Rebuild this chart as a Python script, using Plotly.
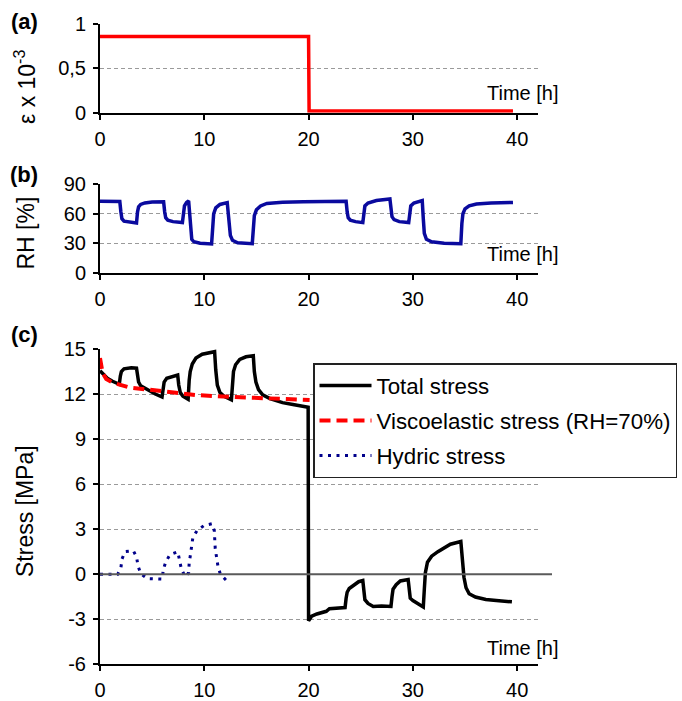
import plotly.graph_objects as go

# ---------------- data ----------------
# (a) imposed strain
strain_t = [0, 20, 20.05, 39.6]
strain_v = [0.86, 0.86, 0.02, 0.02]

# (b) relative humidity
rh_t = [0, 1.9, 2.0, 2.1, 2.3, 2.8, 3.5, 3.6, 3.7, 3.9, 4.3, 5.0, 6.1, 6.2, 6.3, 6.5, 7.0,
        7.9, 8.0, 8.1, 8.3, 8.5, 8.6, 8.7, 8.8, 9.0, 9.6, 10.7, 10.8, 10.9, 11.1, 11.5,
        12.2, 12.4, 12.5, 12.7, 13.2, 14.6, 14.7, 14.8, 15.0, 15.4, 16.0, 17.5, 19.5,
        23.6, 23.7, 23.8, 24.0, 24.5, 25.2, 25.3, 25.4, 25.7, 26.5, 27.8, 27.9, 28.0,
        28.2, 28.7, 29.6, 29.7, 29.8, 30.1, 30.9, 31.0, 31.1, 31.3, 31.8, 33.0, 34.6,
        34.7, 34.8, 35.0, 35.4, 36.1, 37.5, 39.6]
rh_v = [72.7, 72.5, 62, 55, 52.5, 51.5, 50.5, 62, 67, 69.5, 71, 72, 72.2, 62, 56, 53.5, 52,
        51, 63, 68, 71.5, 73, 60, 40, 34, 31.5, 30, 29.3, 50, 60, 66, 69.5,
        71.3, 50, 38, 33, 30.5, 29.5, 48, 58, 64, 68, 70.5, 71.7, 72.3,
        72.7, 62, 56, 53.5, 52, 51, 63, 68, 71, 73.5, 75, 64, 57,
        54, 52, 51, 63, 68, 71, 73.4, 55, 40, 34, 31.5, 30, 29.5,
        50, 60, 65, 68, 70, 71, 71.5]

# (c) stresses
total_t = [0, 0.3, 0.7, 1.2, 1.85, 1.95, 2.05, 2.3, 3.0, 3.5, 3.6, 3.7, 3.9, 4.5, 5.3, 5.95,
           6.05, 6.15, 6.4, 7.0, 7.45, 7.55, 7.7, 7.95, 8.45, 8.55, 8.65, 8.85, 9.2, 9.8,
           10.99, 11.1, 11.25, 11.5, 11.9, 12.6, 12.7, 12.8, 13.0, 13.4, 14.0, 14.7, 14.8,
           14.95, 15.2, 15.6, 16.3, 17.5, 18.5, 19.96, 20.0, 20.3, 20.8, 21.7, 22.0, 22.5,
           23.5, 23.6, 23.7, 23.9, 24.3, 24.8, 25.2, 25.3, 25.4, 25.7, 26.2, 27.0, 27.9,
           28.0, 28.1, 28.4, 28.8, 29.55, 29.65, 29.75, 30.0, 30.4, 31.0, 31.1, 31.2, 31.4,
           31.8, 32.4, 32.9, 33.6, 34.6, 34.75, 34.9, 35.1, 35.4, 36.0, 37.0, 38.0, 39.5]
total_v = [13.55, 13.3, 13.05, 12.85, 12.65, 13.2, 13.5, 13.68, 13.75, 13.72, 13.2, 12.8,
           12.55, 12.3, 12.0, 11.8, 12.5, 12.8, 13.05, 13.2, 13.27, 12.6, 12.1, 11.85, 11.65,
           12.9, 13.5, 14.0, 14.4, 14.65, 14.82, 13.6, 12.6, 12.1, 11.85, 11.62, 12.9, 13.5,
           13.95, 14.3, 14.48, 14.55, 13.5, 12.8, 12.3, 11.95, 11.7, 11.43, 11.3, 11.12,
           -3.1, -2.8, -2.65, -2.47, -2.3, -2.28, -2.22, -1.6, -1.2, -0.95, -0.72, -0.5,
           -0.42, -1.2, -1.7, -1.95, -2.15, -2.12, -2.15, -1.5, -1.0, -0.7, -0.45, -0.35,
           -1.1, -1.6, -1.75, -1.9, -2.18, -1.0, 0.1, 0.8, 1.2, 1.5, 1.72, 2.0, 2.18, 1.0,
           -0.2, -0.9, -1.3, -1.52, -1.68, -1.75, -1.84]

visco_t = [0, 0.25, 0.6, 1.2, 2.8, 6.0, 9.2, 12.4, 15.6, 20.1]
visco_v = [14.4, 13.4, 13.0, 12.76, 12.44, 12.2, 11.93, 11.82, 11.71, 11.6]

hydric_t = [0, 1.7, 2.0, 2.1, 2.4, 3.2, 3.5, 3.65, 3.9, 4.55, 6.0, 6.05, 6.3, 6.7, 7.46, 7.6,
            7.8, 8.17, 8.5, 8.55, 8.65, 8.75, 8.9, 9.3, 9.97, 10.73, 10.96, 11.05, 11.3,
            11.53, 12.1]
hydric_v = [0, 0, 0.4, 1.0, 1.5, 1.56, 1.16, 0.55, 0.04, -0.29, -0.33, 0.27, 0.8, 1.3, 1.49,
            0.9, 0.36, -0.18, 0.1, 0.7, 1.3, 1.84, 2.42, 2.9, 3.24, 3.36, 2.89, 1.7, 0.58,
            0.02, -0.4]

x_ticks = [0, 10, 20, 30, 40]
a_ticks = [0, 0.5, 1]
a_ticktext = ["0", "0,5", "1"]
b_ticks = [0, 30, 60, 90]
c_ticks = [-6, -3, 0, 3, 6, 9, 12, 15]
c_ticktext = ["-6", "-3", "0", "3", "6", "9", "12", "15"]

# ---------------- layout helpers ----------------
FONT = "Liberation Sans, Arial, sans-serif"
W, H = 682, 701
ML, MR, MT, MB = 100, 144, 20, 30
PH = H - MT - MB
PW = W - ML - MR


def py(pix):
    return (H - MB - pix) / PH


def px(pix):
    return (pix - ML) / PW


dom_a = [py(112.7), py(24)]
dom_b = [py(272.7), py(184.3)]
dom_c = [py(664.3), py(349)]
range_c = [-6, 15]

fig = go.Figure()

fig.add_trace(go.Scatter(x=strain_t, y=strain_v, mode="lines", xaxis="x", yaxis="y",
                         line=dict(color="#FF0000", width=3.5), showlegend=False))
fig.add_trace(go.Scatter(x=rh_t, y=rh_v, mode="lines", xaxis="x2", yaxis="y2",
                         line=dict(color="#0A0A9E", width=3.5), showlegend=False))
fig.add_trace(go.Scatter(x=total_t, y=total_v, mode="lines", xaxis="x3", yaxis="y3",
                         name="Total stress", legendgroup="g1",
                         line=dict(color="#000000", width=3.5)))
fig.add_trace(go.Scatter(x=visco_t, y=visco_v, mode="lines", xaxis="x3", yaxis="y3",
                         name="Viscoelastic stress (RH=70%)", legendgroup="g2",
                         line=dict(color="#FF0000", width=4, dash="11px,6px")))
fig.add_trace(go.Scatter(x=hydric_t, y=hydric_v, mode="lines", xaxis="x3", yaxis="y3",
                         name="Hydric stress", legendgroup="g3",
                         line=dict(color="#00008B", width=3, dash="3px,5.5px")))

xcommon = dict(range=[0, 42], tickvals=x_ticks, ticks="outside", ticklen=5, tickwidth=2,
               tickcolor="black", showline=True, linewidth=2, linecolor="black",
               showgrid=False, zeroline=False, automargin=False,
               tickfont=dict(family=FONT, size=20, color="black"), ticklabelstandoff=2)
ycommon = dict(ticks="outside", ticklen=5, tickwidth=2, tickcolor="black", showline=True,
               linewidth=2, linecolor="black", showgrid=True, gridcolor="#9A9A9A",
               gridwidth=1, griddash="4px,3px", zeroline=False, automargin=False,
               tickfont=dict(family=FONT, size=20, color="black"), ticklabelstandoff=3)

fig.update_layout(
    width=W, height=H,
    margin=dict(l=ML, r=MR, t=MT, b=MB, autoexpand=False),
    paper_bgcolor="white", plot_bgcolor="white",
    font=dict(family=FONT, size=20, color="black"),
    xaxis=dict(domain=[0, 1], anchor="y", **xcommon),
    xaxis2=dict(domain=[0, 1], anchor="y2", **xcommon),
    xaxis3=dict(domain=[0, 1], anchor="y3", **xcommon),
    yaxis=dict(domain=dom_a, anchor="x", range=[0, 1], tickvals=a_ticks,
               ticktext=a_ticktext, **ycommon),
    yaxis2=dict(domain=dom_b, anchor="x2", range=[0, 90], tickvals=b_ticks, **ycommon),
    yaxis3=dict(domain=dom_c, anchor="x3", range=range_c, tickvals=c_ticks,
                ticktext=c_ticktext, **ycommon),
    showlegend=True,
    legend=dict(x=px(313), y=py(363), xanchor="left", yanchor="top",
                bgcolor="white", bordercolor="#222222", borderwidth=1.5,
                font=dict(family=FONT, size=22.3, color="black"),
                tracegroupgap=3, itemwidth=52, traceorder="grouped"),
)

# zero line in panel (c), extending slightly beyond the plot area
y0c = dom_c[0] + (0 - range_c[0]) / (range_c[1] - range_c[0]) * (dom_c[1] - dom_c[0])
fig.add_shape(type="line", xref="paper", yref="paper", x0=0, x1=px(552), y0=y0c, y1=y0c,
              line=dict(color="#5A5A5A", width=2), layer="above")

annots = []
# "Time [h]" labels
for yr, yv in [("y", 0.22), ("y2", 19), ("y3", -4.93)]:
    annots.append(dict(text="Time [h]", xref="paper", yref=yr, x=px(561), y=yv,
                       xanchor="right", yanchor="middle", showarrow=False,
                       font=dict(family=FONT, size=20, color="black")))
# axis titles
for txt, yc in [("ε x 10<sup>-3</sup>", 87), ("RH [%]", 233.5), ("Stress [MPa]", 511)]:
    annots.append(dict(text=txt, xref="paper", yref="paper", x=px(25), y=py(yc),
                       xanchor="center", yanchor="middle", textangle=-90, showarrow=False,
                       font=dict(family=FONT, size=23, color="black")))
# panel labels
for txt, yc in [("(a)", 22), ("(b)", 174), ("(c)", 334)]:
    annots.append(dict(text="<b>" + txt + "</b>", xref="paper", yref="paper", x=px(24),
                       y=py(yc), xanchor="center", yanchor="middle", showarrow=False,
                       font=dict(family=FONT, size=22, color="black")))
fig.update_layout(annotations=annots)

fig.write_html("out.html", config={"displayModeBar": False},
               post_script="document.body.style.margin='0';")
